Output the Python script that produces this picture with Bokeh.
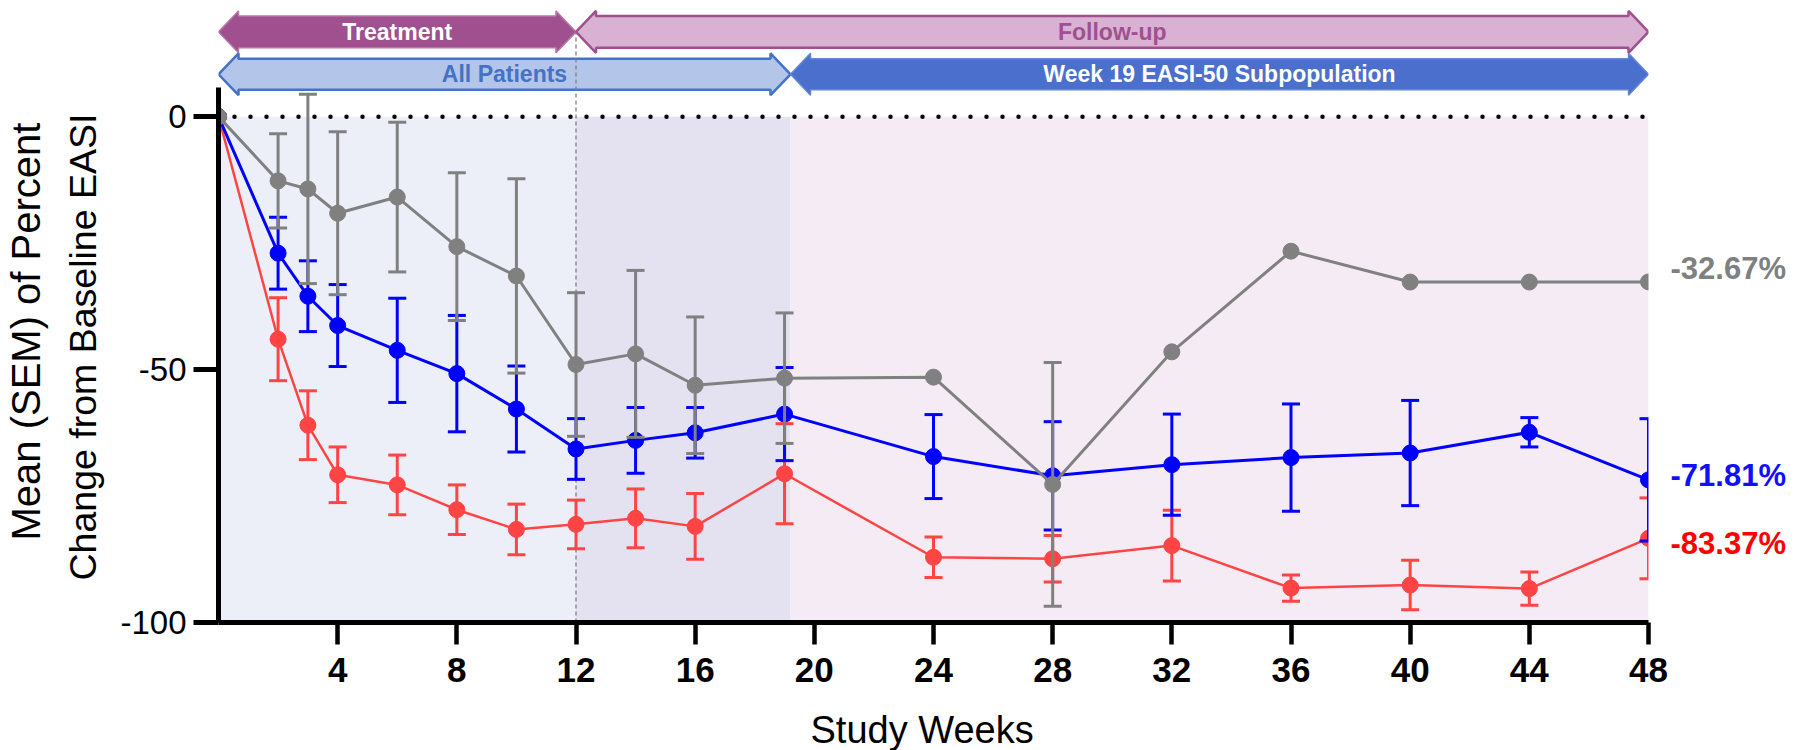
import numpy as np
from bokeh.plotting import figure
from bokeh.models import Range1d, FixedTicker, Title, CustomJSTickFormatter
from bokeh.embed import file_html
from bokeh.resources import INLINE
from bokeh.core.properties import value

# ---------------- data ----------------
weeks = [0, 2, 3, 4, 6, 8, 10, 12, 14, 16, 19, 24, 28, 32, 36, 40, 44, 48]

gray_mean = [0, -12.7, -14.3, -19.1, -15.9, -25.7, -31.5, -49.0, -46.9, -53.1, -51.7,
             -51.5, -72.7, -46.5, -26.6, -32.7, -32.7, -32.67]
gray_sem = [np.nan, 9.3, 18.7, 16.1, 14.8, 14.6, 19.2, 14.2, 16.5, 13.5, 12.9,
            np.nan, 24.1, np.nan, np.nan, np.nan, np.nan, np.nan]

blue_mean = [0, -27.0, -35.5, -41.3, -46.2, -50.8, -57.8, -65.7, -64.0, -62.5, -58.8,
             -67.2, -71.0, -68.8, -67.4, -66.5, -62.4, -71.81]
blue_sem = [np.nan, 7.1, 7.0, 8.1, 10.3, 11.5, 8.5, 6.0, 6.5, 5.0, 9.2,
            8.3, 10.7, 10.0, 10.6, 10.4, 2.9, 12.1]

red_mean = [0, -44.0, -61.0, -70.8, -72.8, -77.7, -81.6, -80.6, -79.4, -81.0, -70.6,
            -87.1, -87.4, -84.8, -93.2, -92.6, -93.3, -83.37]
red_sem = [np.nan, 8.2, 6.8, 5.5, 5.9, 4.9, 5.0, 4.8, 5.8, 6.5, 9.9,
           4.0, 4.6, 7.0, 2.6, 4.9, 3.3, 8.0]

phase_names = ["Treatment", "Follow-up"]
phase_start = [0, 12]
phase_end = [12, 48]

pop_names = ["All Patients", "Week 19 EASI-50 Subpopulation"]
pop_start = [0, 19.2]
pop_end = [19.2, 48]

zone_start = [0, 12, 19.2]
zone_end = [12, 19.2, 48]
zone_colors = ["#ECEEF8", "#E4E2F0", "#F5EBF4"]

x_ticks = [4, 8, 12, 16, 20, 24, 28, 32, 36, 40, 44, 48]
y_ticks = [-100, -50, 0]
x_last = 48

# ---------------- layout ----------------
W, H = 1795, 750
BL, BT, BB = 218, 0, 126
FH = H - BT - BB                     # 624
ppx = 1430 / 48                      # px per week
ppy = 5.075                          # px per percent
X0 = 0
X1 = X0 + (W - BL) / ppx
Y0 = -100
Y1 = Y0 + FH / ppy


def dx(px):
    return px / ppx


def dy(px):
    return px / ppy


def ydata(sy):
    return Y1 - (sy - BT) / ppy


FONT = "Liberation Sans"

p = figure(width=W, height=H, x_range=Range1d(X0, X1), y_range=Range1d(Y0, Y1),
           output_backend="svg", toolbar_location=None,
           min_border_left=BL, min_border_right=0, min_border_top=BT, min_border_bottom=BB)
p.outline_line_color = None
p.xgrid.grid_line_color = None
p.ygrid.grid_line_color = None
p.background_fill_color = "white"
p.border_fill_color = "white"

# background zones
p.quad(left=zone_start, right=zone_end, top=[0] * 3, bottom=[-100] * 3,
       fill_color=zone_colors, line_color=None)

# header arrows
row1_c = ydata(31.5)
row2_c = ydata(74)


def arrow(x0, x1, yc, hs=16, hh=21, hl=20):
    a, s, h = dx(hl), dy(hs), dy(hh)
    xs = [x0, x0 + a, x0 + a, x1 - a, x1 - a, x1, x1 - a, x1 - a, x0 + a, x0 + a]
    ys = [yc, yc + h, yc + s, yc + s, yc + h, yc, yc - h, yc - s, yc - s, yc - h]
    return xs, ys


axs, ays = [], []
for s, e in zip(phase_start, phase_end):
    xs, ys = arrow(s, e, row1_c)
    axs.append(xs); ays.append(ys)
for s, e in zip(pop_start, pop_end):
    xs, ys = arrow(s, e, row2_c, hs=15.5)
    axs.append(xs); ays.append(ys)

p.patches(xs=axs, ys=ays,
          fill_color=["#A0508F", "#D9B2D3", "#B4C5EA", "#4A6FCC"],
          line_color=["#B975A9", "#A0508F", "#4472C4", "#6586D6"],
          line_width=[1.5, 2.5, 2.5, 1.5])

p.text(x=[(s + e) / 2 for s, e in zip(phase_start, phase_end)],
       y=[row1_c] * 2, text=phase_names,
       text_color=["white", "#A0508F"], text_font=value(FONT), text_font_style="bold",
       text_font_size="23px", text_align="center", text_baseline="middle")
p.text(x=[(s + e) / 2 for s, e in zip(pop_start, pop_end)],
       y=[row2_c] * 2, text=pop_names,
       text_color=["#4472C4", "white"], text_font=value(FONT), text_font_style="bold",
       text_font_size="23px", text_align="center", text_baseline="middle")

# reference lines
p.line(x=[X0, x_last], y=[0, 0], line_color="black", line_width=4.5,
       line_dash="0 16", line_cap="round")
p.segment(x0=[phase_end[0]], y0=[-100], x1=[phase_end[0]], y1=[row1_c],
          line_color="#808080", line_width=1.3, line_dash="4 3")

# series
series = [
    (red_mean, red_sem, "#FF4444", 2.5),
    (blue_mean, blue_sem, "#0000FF", 3),
    (gray_mean, gray_sem, "#808080", 3),
]
for mean, sem, col, lw in series:
    m = np.array(mean, dtype=float)
    e = np.array(sem, dtype=float)
    lo, hi = m - e, m + e
    p.segment(x0=weeks, y0=lo, x1=weeks, y1=hi, line_color=col, line_width=3)
    p.scatter(x=weeks, y=hi, marker="dash", size=18, line_color=col, line_width=3)
    p.scatter(x=weeks, y=lo, marker="dash", size=18, line_color=col, line_width=3)
    p.line(x=weeks, y=m, line_color=col, line_width=lw)
    p.scatter(x=weeks, y=m, marker="circle", size=16, fill_color=col, line_color=col)

# the original graph is clipped at the last week: mask beyond it
p.quad(left=[x_last], right=[X1], top=[Y1], bottom=[Y0], fill_color="white", line_color=None)

# end-of-study value labels
end_vals = [gray_mean[-1], blue_mean[-1], red_mean[-1]]
end_cols = ["#808080", "#1010FF", "#FF0000"]
end_nudge_px = [13.3, 4.9, -5.0]
p.text(x=[x_last + dx(22)] * 3,
       y=[v + dy(n) for v, n in zip(end_vals, end_nudge_px)],
       text=[f"{v:.2f}%" for v in end_vals],
       text_color=end_cols, text_font=value(FONT), text_font_style="bold",
       text_font_size="31px", text_align="left", text_baseline="middle")

# y-axis title, two lines
t2 = Title(text="Change from Baseline EASI", align="left", offset=42, vertical_align="top",
           text_font=FONT, text_font_size="37.5px", text_font_style="normal",
           text_color="black", standoff=24)
t1 = Title(text="Mean (SEM) of Percent", align="left", offset=82, vertical_align="top",
           text_font=FONT, text_font_size="40px", text_font_style="normal",
           text_color="black", standoff=0)
p.add_layout(t2, "left")
p.add_layout(t1, "left")

# x-axis title (placed as in the original, left of the axis centre)
tx = Title(text="Study Weeks", align="left", offset=592, vertical_align="bottom",
           text_font=FONT, text_font_size="38px", text_font_style="normal",
           text_color="black", standoff=0)
p.add_layout(tx, "below")

# axes
for ax in (p.xaxis[0], p.yaxis[0]):
    ax.axis_line_width = 5
    ax.axis_line_color = "black"
    ax.major_tick_line_width = 5
    ax.major_tick_line_color = "black"
    ax.major_tick_in = 0
    ax.minor_tick_in = 0
    ax.minor_tick_out = 0
    ax.major_label_text_color = "black"
    ax.major_label_text_font = FONT

p.yaxis.ticker = FixedTicker(ticks=y_ticks)
p.yaxis.formatter = CustomJSTickFormatter(code="return tick.toFixed(0);")
p.yaxis.bounds = (-100, 5.8)
p.yaxis.major_tick_out = 25
p.yaxis.major_label_text_font_size = "33px"
p.yaxis.major_label_standoff = 7

p.xaxis.ticker = FixedTicker(ticks=x_ticks)
p.xaxis.bounds = (0, x_last)
p.xaxis.major_tick_out = 22
p.xaxis.major_tick_line_width = 4.5
p.xaxis.major_label_text_font_size = "35px"
p.xaxis.major_label_text_font_style = "bold"
p.xaxis.major_label_standoff = 13
# blank spacer label: pushes the "Study Weeks" title down to where the original has it
p.xaxis.axis_label = " "
p.xaxis.axis_label_text_font_size = "12px"
p.xaxis.axis_label_standoff = 5

open("out.html", "w").write(file_html(p, INLINE))
